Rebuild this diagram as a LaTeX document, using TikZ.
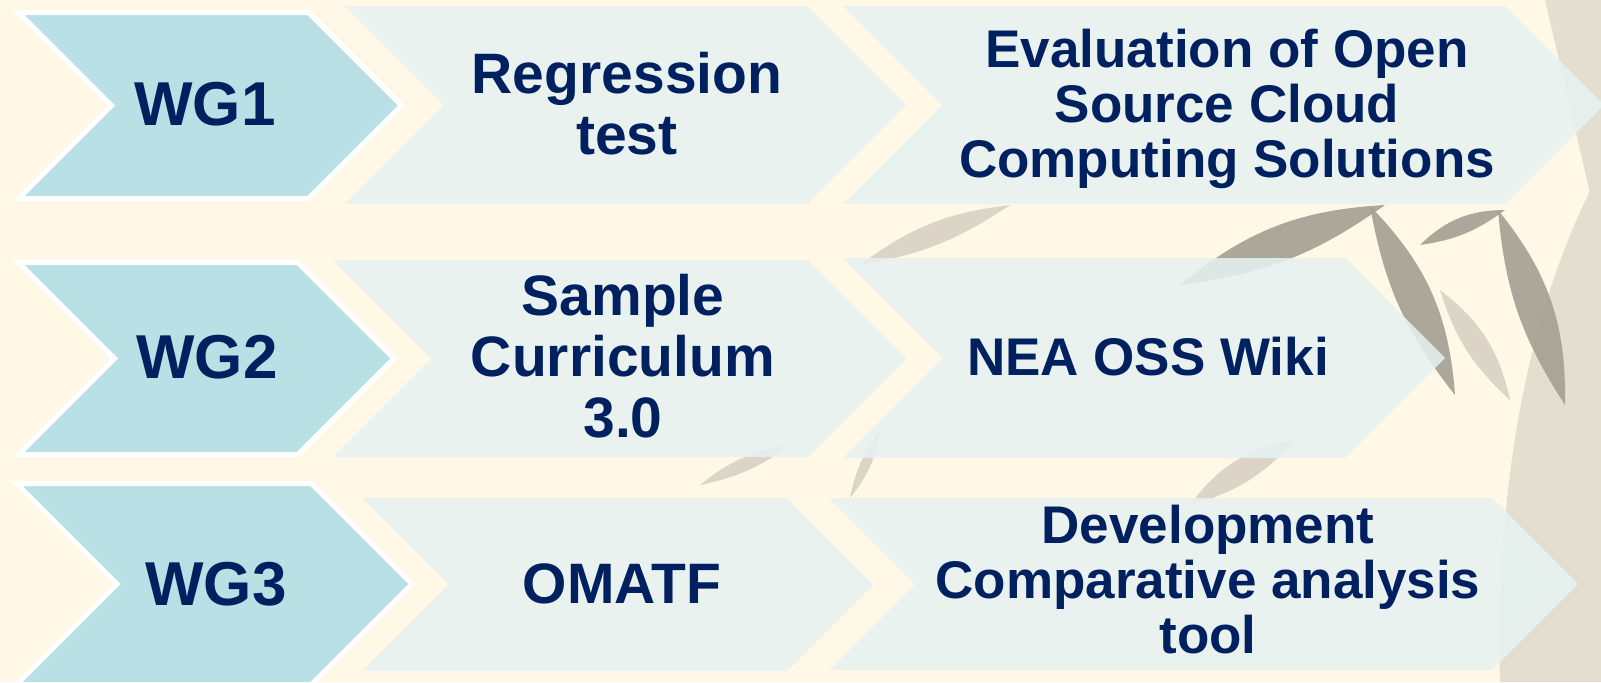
\documentclass[tikz,border=0pt]{standalone}
\usepackage{fontspec}
\setmainfont{Liberation Sans}

\definecolor{bgcream}{HTML}{FFF8E7}
\definecolor{wgteal}{HTML}{B9E0E4}
\definecolor{paleblue}{HTML}{E6F2F1}
\definecolor{navytext}{HTML}{002060}
\definecolor{leafdark}{HTML}{A59E92}
\definecolor{leaflight}{HTML}{D2CCBF}
\definecolor{stalkgray}{HTML}{E4DED0}

% chevron: style, left x, top-right x, top y, bottom y
\newcommand{\chevron}[5]{%
  \pgfmathsetmacro\chmid{(#4+#5)/2}%
  \pgfmathsetmacro\chdep{(#5-#4)/2}%
  \path[#1] (#2,#4) -- (#3,#4) -- ({#3+\chdep},\chmid) -- (#3,#5) -- (#2,#5)
    -- ({#2+\chdep},\chmid) -- cycle;}

\begin{document}
\begin{tikzpicture}[x=0.5pt,y=-0.5pt,
    wgbox/.style={fill=wgteal,draw=white,line width=2.5pt,line join=miter},
    stepbox/.style={fill=paleblue,fill opacity=0.86},
    wglabel/.style={font=\fontsize{31}{33}\selectfont\bfseries,text=navytext,anchor=base},
    biglabel/.style={font=\fontsize{28.5}{30.5}\selectfont\bfseries,text=navytext,align=center,anchor=base},
    steplabel/.style={font=\fontsize{26.5}{27.5}\selectfont\bfseries,text=navytext,align=center,anchor=base},
    darkleaf/.style={fill=leafdark,fill opacity=0.9},
    paleleaf/.style={fill=leaflight,fill opacity=0.8}]

  \clip (0,0) rectangle (1601,682);
  \fill[bgcream] (0,0) rectangle (1601,682);

  % bamboo behind the chevrons
  \fill[stalkgray] (1500,682) .. controls (1495,480) and (1530,300) .. (1601,170) -- (1601,682) -- cycle;
  \fill[stalkgray] (1545,0) -- (1601,0) -- (1601,240) .. controls (1580,150) .. (1545,0);
  \fill[darkleaf] (1180,285) to[bend left=18] (1385,205) to[bend left=14] (1180,285);
  \fill[darkleaf] (1370,206) to[bend left=20] (1455,395) to[bend left=14] (1370,206);
  \fill[darkleaf] (1420,245) to[bend left=22] (1505,210) to[bend left=14] (1420,245);
  \fill[darkleaf] (1498,210) to[bend left=20] (1565,405) to[bend left=14] (1498,210);
  \fill[paleleaf] (1440,290) to[bend left=20] (1510,400) to[bend left=15] (1440,290);
  \fill[paleleaf] (1190,505) to[bend left=22] (1295,440) to[bend left=16] (1190,505);
  \fill[paleleaf] (860,265) to[bend left=15] (1010,205) to[bend left=12] (860,265);
  \fill[paleleaf] (700,485) to[bend left=15] (790,445) to[bend left=12] (700,485);
  \fill[paleleaf] (880,430) to[bend left=15] (850,498) to[bend left=12] (880,430);

  % row 1
  \chevron{wgbox}{18.5}{308.5}{12.5}{198.5}
  \chevron{stepbox}{345}{807}{6}{204}
  \chevron{stepbox}{843}{1505}{6}{204}
  % row 2
  \chevron{wgbox}{18.5}{298}{262.5}{454.5}
  \chevron{stepbox}{333}{808}{260}{457}
  \chevron{stepbox}{843}{1345}{258}{458}
  % row 3
  \chevron{wgbox}{16.5}{311.5}{483.5}{684.5}
  \chevron{stepbox}{362}{787}{498}{671}
  \chevron{stepbox}{829}{1492}{498}{670}

  \node[wglabel] (wg1) at (205,125) {WG1};
  \node[biglabel] (reg) at (627,154) {Regression\\test};
  \node[steplabel] (eval) at (1227,177) {Evaluation of Open\\Source Cloud\\Computing Solutions};

  \node[wglabel] (wg2) at (207,378) {WG2};
  \node[biglabel] (samp) at (623,437) {Sample\\Curriculum\\3.0};
  \node[steplabel] (wiki) at (1148,375) {NEA OSS Wiki};

  \node[wglabel] (wg3) at (216,605) {WG3};
  \node[biglabel] (omatf) at (622,603) {OMATF};
  \node[steplabel] (dev) at (1208,653) {Development\\Comparative analysis\\tool};
\end{tikzpicture}
\end{document}
